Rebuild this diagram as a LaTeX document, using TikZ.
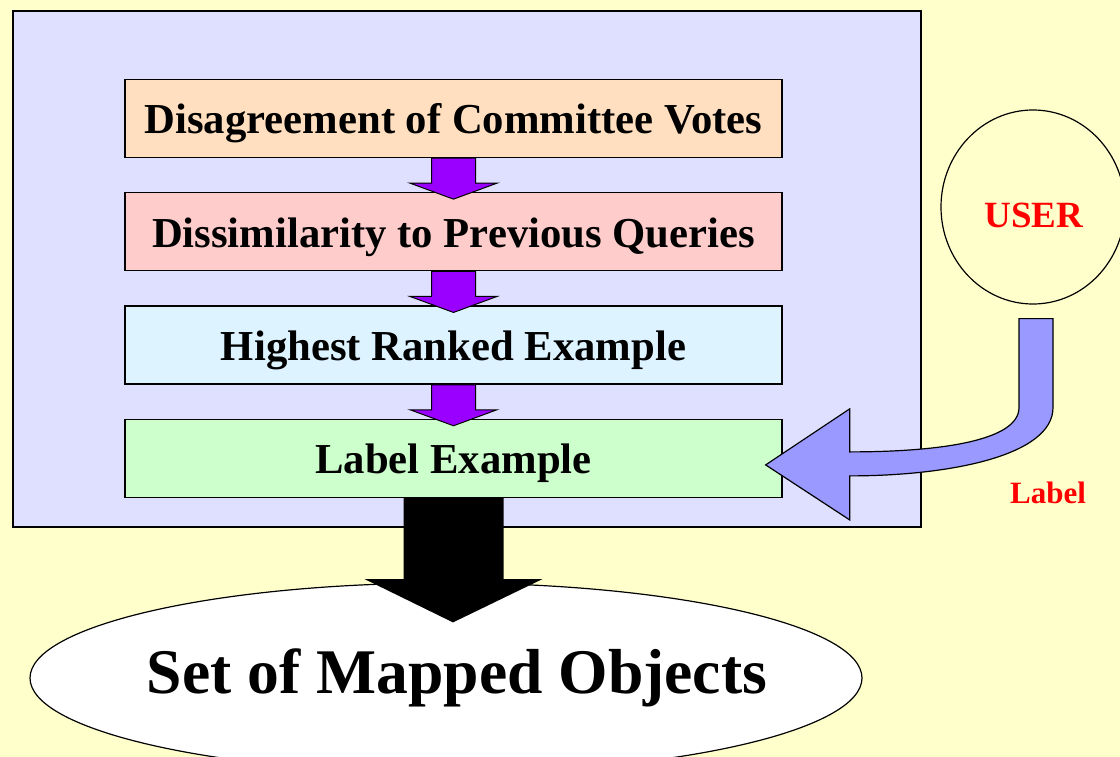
\documentclass[tikz,border=0pt]{standalone}
\usepackage{fontspec}
\setmainfont{Liberation Serif}
\usetikzlibrary{positioning,calc,shapes.geometric}

\definecolor{bgyellow}{HTML}{FFFFCC}
\definecolor{framelilac}{HTML}{DFDFFF}
\definecolor{peach}{HTML}{FFDFC0}
\definecolor{rose}{HTML}{FFCCCC}
\definecolor{sky}{HTML}{DDF3FF}
\definecolor{mint}{HTML}{CCFFCC}
\definecolor{violetarrow}{HTML}{9900FF}
\definecolor{userblue}{HTML}{9999FF}

% block arrow from the bottom of one box into the top of the next
\newcommand{\flowdown}[2]{
  \draw[flow] ($(#1.south)+(-22,0)$) -- ++(0,25) -- ++(-21.5,0)
    -- ($(#2.north)+(0,7)$) -- ($(#1.south)+(43.5,25)$) -- ++(-21.5,0)
    -- ++(0,-25) -- cycle;
}

\begin{document}
\begin{tikzpicture}[x=1pt,y=-1pt,line width=1.3pt,node distance=34pt,
    box/.style={rectangle,draw,minimum width=657pt,minimum height=78pt,
                text height=31pt,text depth=0pt,
                font=\fontsize{42.7}{48}\selectfont\bfseries},
    flow/.style={fill=violetarrow,draw=black,line width=1pt},
    redtext/.style={text=red,font=\fontsize{#1}{#1}\selectfont\bfseries}]

  \useasboundingbox[fill=bgyellow] (0,0) rectangle (1120,757);
  \draw[fill=framelilac,line width=1.5pt] (13,11) rectangle (921,527);

  \node[box,fill=peach] (dis) at (453.5,118.5) {Disagreement of Committee Votes};
  \node[box,fill=rose]  (sim) [below=of dis]   {Dissimilarity to Previous Queries};
  \node[box,fill=sky]   (top) [below=of sim]   {Highest Ranked Example};
  \node[box,fill=mint]  (lab) [below=of top]   {Label Example};

  \flowdown{dis}{sim}
  \flowdown{sim}{top}
  \flowdown{top}{lab}

  \node[ellipse,draw,line width=1.2pt,fill=bgyellow,minimum width=184pt,
        minimum height=194pt] (user) at (1033,207) {};
  \node[redtext=37,anchor=base] (usertext) at ($(user.center)+(1,20)$) {USER};
  \node[redtext=31,anchor=base] (lbl) at (1048,503) {Label};

  \node[ellipse,draw,line width=1.2pt,fill=white,inner sep=0pt,
        minimum width=832pt,minimum height=190pt] (objs) at (446,678) {};
  \node[anchor=base,font=\fontsize{63.6}{70}\selectfont\bfseries]
        (objstext) at ($(objs.center)+(11,15)$) {Set of Mapped Objects};

  % user hands the label back
  \coordinate (tip) at ($(lab.east)+(-17,6.5)$);
  \draw[fill=userblue,line width=1.2pt]
    ($(user.south)+(-14,14)$) -- ++(34,0) -- ++(0,89)
    .. controls ++(0,48) and ++(100,0) .. ($(tip)+(84,11)$)
    -- ++(0,44) -- (tip) -- ($(tip)+(84,-56)$) -- ++(0,43)
    .. controls ++(91,0) and ++(0,33) .. ($(user.south)+(-14,103)$)
    -- cycle;

  % result goes down into the set
  \fill ($(lab.south)+(-50,0)$) -- ++(0,81) -- ++(-39,0)
    -- ($(objs.north)+(7,40)$) -- ($(lab.south)+(89,81)$) -- ++(-39,0)
    -- ++(0,-81) -- cycle;
\end{tikzpicture}
\end{document}
